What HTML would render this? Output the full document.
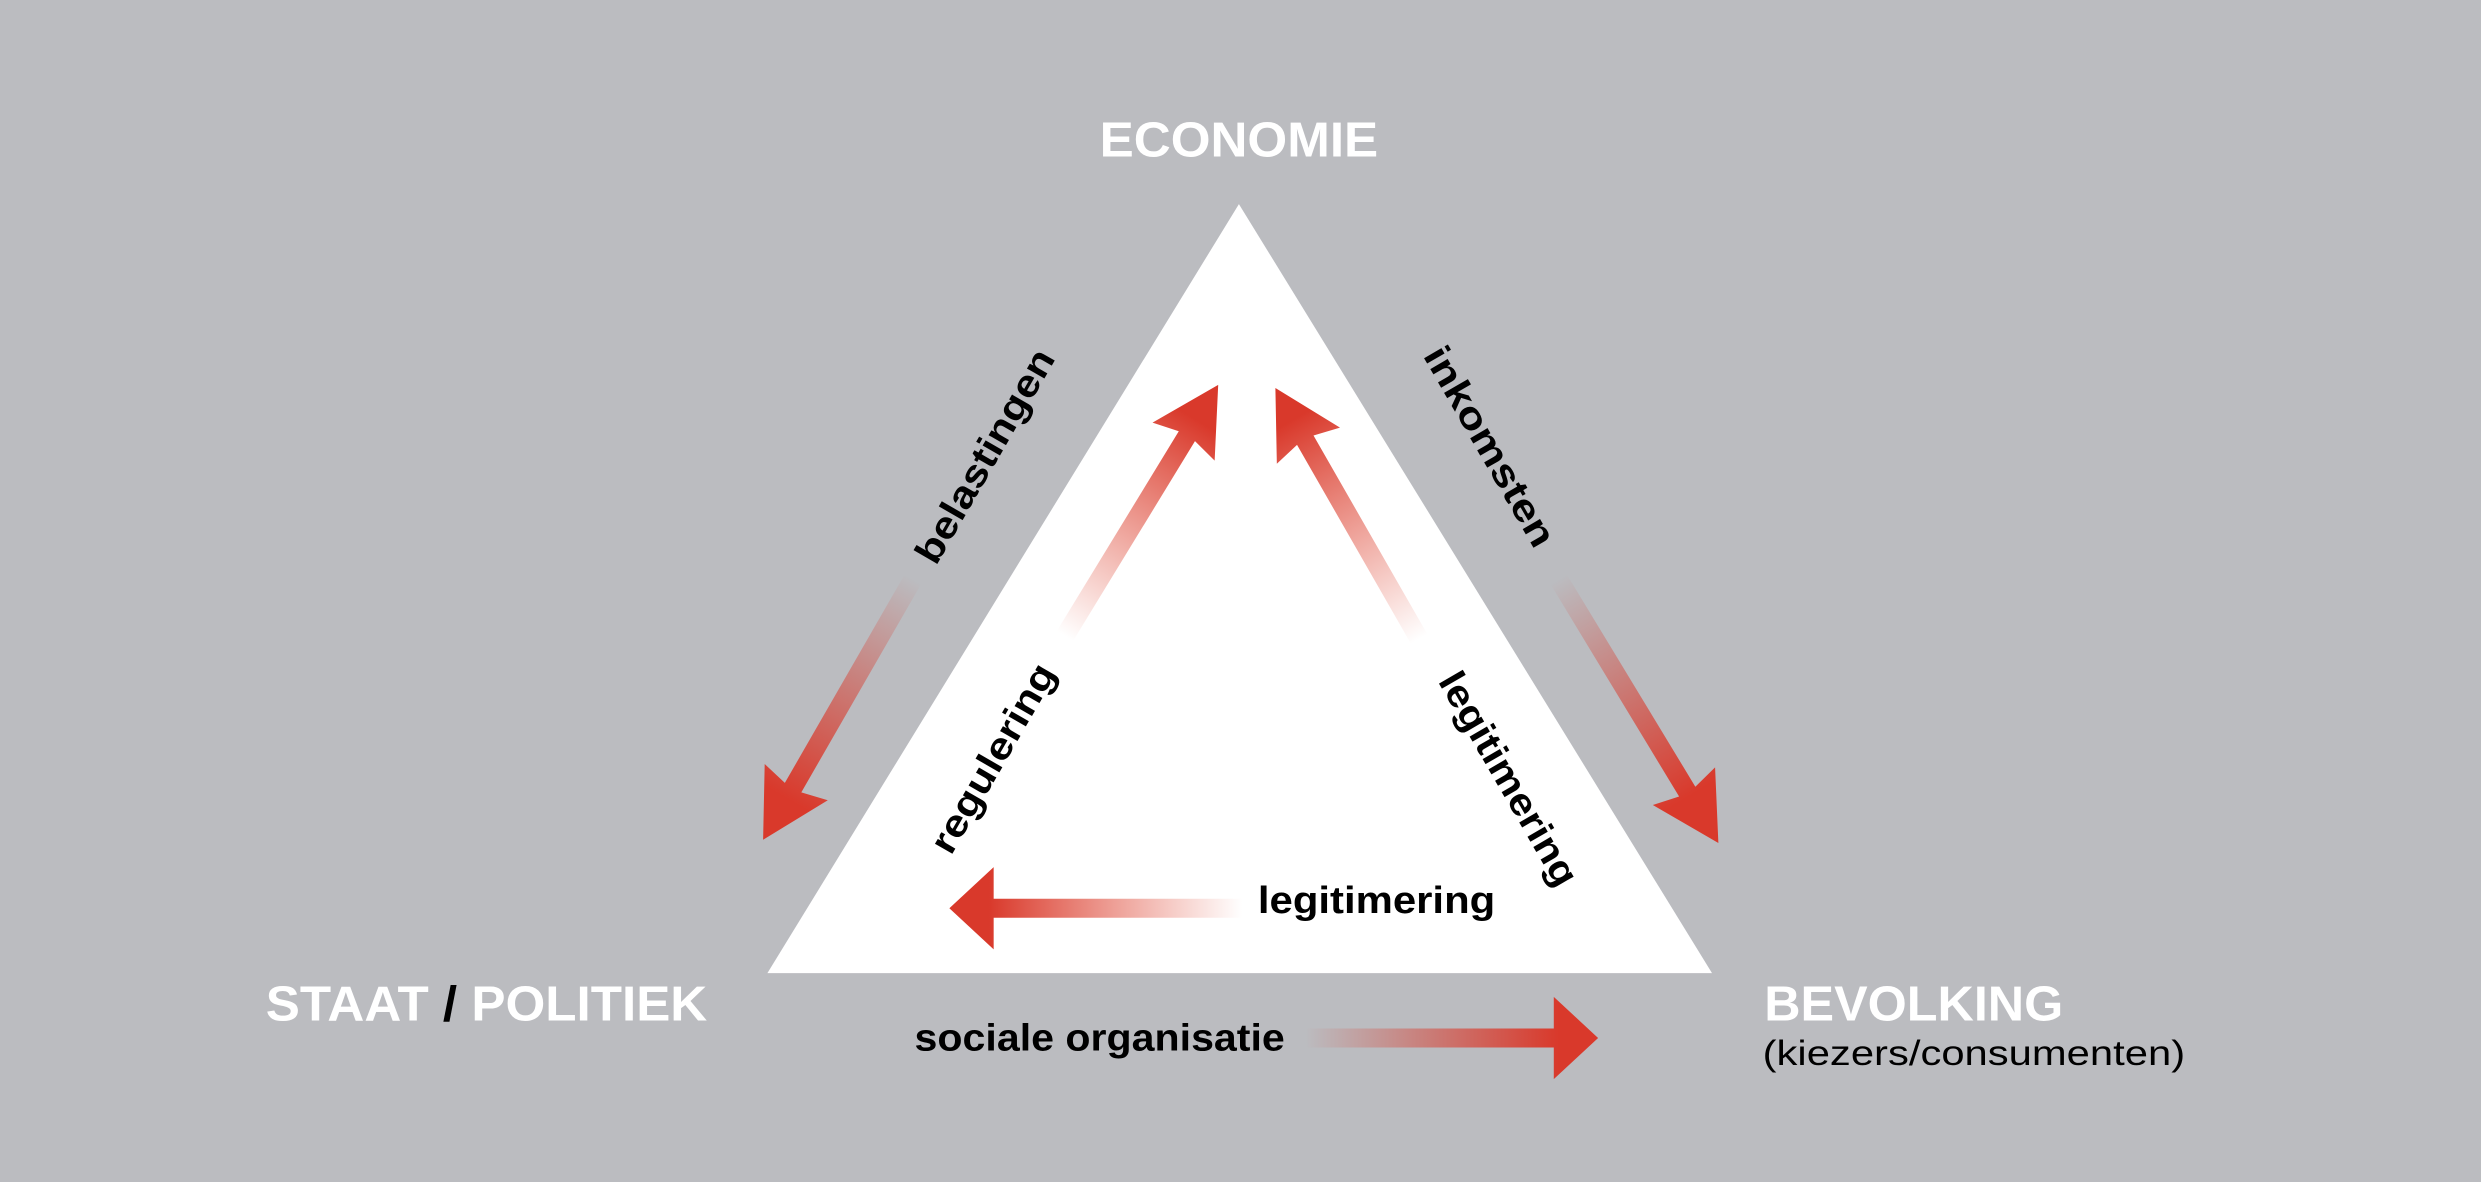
<!DOCTYPE html>
<html><head><meta charset="utf-8"><style>
html,body{margin:0;padding:0;background:#bbbcc0;}
svg{display:block;}
text{font-family:"Liberation Sans",sans-serif;}
</style></head><body>
<svg width="2481" height="1182" viewBox="0 0 1568 747" xmlns="http://www.w3.org/2000/svg">
<defs>
<linearGradient id="gg" gradientUnits="userSpaceOnUse" x1="0" y1="0" x2="160" y2="0">
<stop offset="0" stop-color="#d9392b" stop-opacity="0"/>
<stop offset="1" stop-color="#d9392b" stop-opacity="1"/>
</linearGradient>
<linearGradient id="gw" gradientUnits="userSpaceOnUse" x1="0" y1="0" x2="160" y2="0">
<stop offset="0" stop-color="#e04a35" stop-opacity="0"/>
<stop offset="1" stop-color="#d9392b" stop-opacity="1"/>
</linearGradient>
</defs>
<rect width="1568" height="747" fill="#bbbcc0"/>
<polygon points="783,129 485,615 1082,615" fill="#fff"/>

<!-- diagonal arrows: length L, shaft 12, head len 38 width 46 -->
<g transform="translate(577,366) rotate(119.9)">
<path d="M0,-6 L152,-6 L148,-23 L190,0 L148,23 L152,6 L0,6 Z" fill="url(#gg)"/>
</g>
<g transform="translate(985,366) rotate(58.8)">
<path d="M0,-6 L157,-6 L153,-23 L195,0 L153,23 L157,6 L0,6 Z" fill="url(#gg)"/>
</g>
<g transform="translate(673,402) rotate(-58.6)">
<path d="M0,-6 L148,-6 L144,-23 L186,0 L144,23 L148,6 L0,6 Z" fill="url(#gw)"/>
</g>
<g transform="translate(897,404) rotate(-119.8)">
<path d="M0,-6 L145,-6 L141,-23 L183,0 L141,23 L145,6 L0,6 Z" fill="url(#gw)"/>
</g>
<g transform="translate(785,574) rotate(180)">
<path d="M0,-6 L157,-6 L157,-26 L185,0 L157,26 L157,6 L0,6 Z" fill="url(#gw)"/>
</g>
<g transform="translate(825,656)">
<path d="M0,-6 L157,-6 L157,-26 L185,0 L157,26 L157,6 L0,6 Z" fill="url(#gg)"/>
</g>

<text x="783" y="99" font-size="31" font-weight="bold" fill="#fff" text-anchor="middle" textLength="176" lengthAdjust="spacingAndGlyphs">ECONOMIE</text>
<text x="168" y="645" font-size="31" font-weight="bold" fill="#fff" textLength="279" lengthAdjust="spacingAndGlyphs">STAAT <tspan fill="#000">/</tspan> POLITIEK</text>
<text x="1115" y="645" font-size="31" font-weight="bold" fill="#fff" textLength="189" lengthAdjust="spacingAndGlyphs">BEVOLKING</text>
<text x="1114" y="673" font-size="22" fill="#000" textLength="267" lengthAdjust="spacingAndGlyphs">(kiezers/consumenten)</text>

<text x="795" y="577" font-size="24" font-weight="bold" fill="#000" textLength="150" lengthAdjust="spacingAndGlyphs">legitimering</text>
<text x="578" y="664" font-size="24" font-weight="bold" fill="#000" textLength="234" lengthAdjust="spacingAndGlyphs">sociale organisatie</text>

<text transform="translate(624,289) rotate(-60)" font-size="24" font-weight="bold" fill="#000" text-anchor="middle" dominant-baseline="middle" textLength="152" lengthAdjust="spacingAndGlyphs">belastingen</text>
<text transform="translate(940,283) rotate(60)" font-size="24" font-weight="bold" fill="#000" text-anchor="middle" dominant-baseline="middle" textLength="142" lengthAdjust="spacingAndGlyphs">inkomsten</text>
<text transform="translate(629,480) rotate(-60)" font-size="24" font-weight="bold" fill="#000" text-anchor="middle" dominant-baseline="middle" textLength="134" lengthAdjust="spacingAndGlyphs">regulering</text>
<text transform="translate(952,493) rotate(60)" font-size="24" font-weight="bold" fill="#000" text-anchor="middle" dominant-baseline="middle" textLength="152" lengthAdjust="spacingAndGlyphs">legitimering</text>
</svg>
</body></html>
